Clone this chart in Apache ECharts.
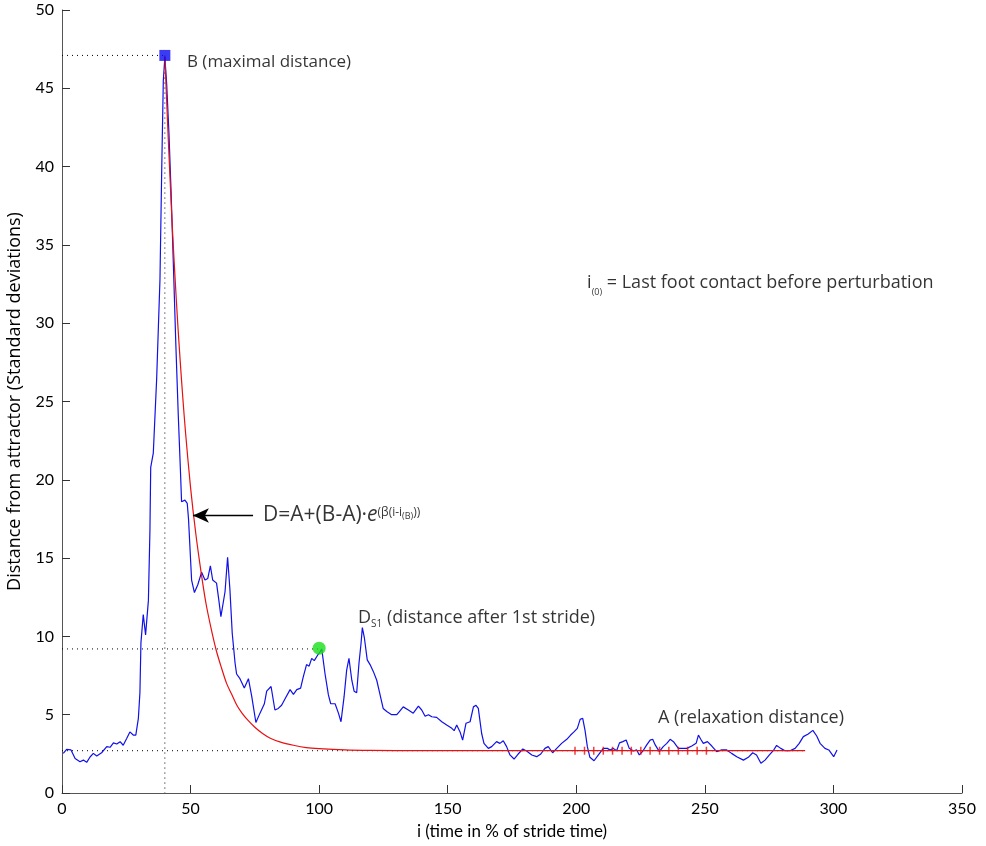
<!DOCTYPE html>
<html>
<head>
<meta charset="UTF-8">
<title>Distance from attractor</title>
<script src="https://cdn.jsdelivr.net/npm/echarts@6/dist/echarts.min.js"></script>
<style>
  html, body { margin: 0; padding: 0; background: #fff; }
  #main { width: 986px; height: 846px; }
</style>
</head>
<body>
<div id="main"></div>
<script>
// blue trace: distance from attractor
var blueX = [0.5, 1.8, 3.5, 5.1, 7, 8.3, 9.6, 10.9, 12.2, 13.5, 15.4, 17.4, 18.7, 20, 21.3, 22.6, 23.8, 25.2, 26.4, 27.7, 28.7, 29.7, 30.3, 30.7, 31.6, 32.5, 33.6, 34.2, 34.5, 35.5, 36.8, 38.1, 38.8, 39.4, 40,
  40.7, 41.6, 42.4, 43.3, 44.3, 45.2, 46.1, 46.5, 47.8, 48.7, 49.2, 50.4, 51.5, 52.8, 54.3, 55.6, 56.7, 57.7, 58.6, 60.1, 61, 61.8, 62.5, 63.4, 64.4, 65.3, 66.2, 67.3, 67.9, 69.2, 70.9, 72.5, 73.8, 75.4, 77, 78.7, 79.6, 81.3, 81.8, 82.8, 84.1, 85.4, 86.7, 88.7, 90, 91.3, 92.8, 93.8, 95.1, 96.1, 97.1, 98.1, 99.4, 100.3, 101,
  102.3, 103.6, 104.5, 106.2, 107.5, 108.5, 109.7, 110.7, 111.6, 112.7, 113.6, 114.6, 115.5, 116.3, 116.8, 117.6, 118.7, 119.8, 121.1, 122.4, 123.7, 124.9, 126.3, 128.2, 130.2, 131.2, 132.7, 134.7, 136.6, 138.6, 139.9, 141.2, 142.5, 143.8, 145.7, 147.7, 149.6, 151.6, 152.5, 153.5, 154.8, 155.8, 157.1, 158.7, 160, 161, 161.9, 163.2, 164.1, 165.8, 167.1, 169, 170.3, 171.6, 172.9, 174.2, 175.8, 177.4, 179.2, 180.7,
  182.7, 184.6, 186.2, 187.8, 189.1, 190.8, 192.4, 194.3, 196.3, 197.8, 199.1, 200.4, 201.5, 202.5, 203.4, 204.3, 205.3, 206.9, 208.6, 210.5, 212.1, 213.1, 214.4, 215.7, 216.8, 218.1, 219.4, 220.6, 222.2, 223.5, 224.5, 225.9, 227.4, 228.7, 229.7, 230.7, 232.3, 233.8, 235.2, 236.5, 237.8, 239.7, 241.4, 243, 244.9, 246.6, 247.5, 248.4, 249.4, 251, 252.7, 254.6, 256.6, 258.5, 260.4, 262.4, 265, 266.9, 268.6, 270.1, 271.8, 273.4, 275.1, 276.6, 277.9, 279.5, 281.2, 283.1, 285.1, 286.7, 288.3, 290.2, 292, 293.5, 294.8, 296.7, 298.2, 300.1, 301.4];
var blueY = [2.53, 2.79, 2.75, 2.2, 2.0, 2.1, 1.96, 2.3, 2.53, 2.36, 2.57, 2.96, 2.92, 3.2, 3.13, 3.28, 3.05, 3.49, 3.9, 3.7, 3.7, 4.77, 6.4, 9.6, 11.4, 10.1, 12.3, 16.8, 20.8, 21.7, 26.4, 32.8, 40, 45.5, 47.0,
  45.3, 42.1, 38.5, 33.8, 28.5, 24.2, 20.4, 18.6, 18.7, 18.5, 17.5, 13.6, 12.8, 13.3, 14.1, 13.6, 13.7, 14.5, 13.6, 13.4, 12.3, 11.26, 11.26, 12.85, 15.05, 13.0, 10.2, 8.3, 7.6, 7.3, 6.7, 7.3, 6.15, 4.5, 5.1, 5.7, 6.5, 6.8, 6.8, 5.3, 5.4, 5.6, 6.0, 6.6, 6.3, 6.6, 6.7, 7.4, 8.2, 8.1, 8.6, 8.45, 8.8, 9.0, 9.2,
  7.6, 6.26, 5.7, 5.7, 5.1, 4.55, 6.15, 7.85, 8.6, 7.2, 6.5, 6.4, 8.3, 9.56, 10.56, 9.9, 8.5, 8.2, 7.75, 7.2, 6.26, 5.4, 5.2, 5.0, 5.0, 5.2, 5.5, 5.3, 5.1, 5.55, 5.3, 4.9, 5.0, 4.87, 4.83, 4.55, 4.34, 4.13, 3.98, 4.34, 3.9, 3.38, 4.45, 4.55, 5.5, 5.6, 5.4, 3.8, 3.17, 2.85, 2.96, 3.28, 3.17, 3.34, 2.96, 2.43, 2.17, 2.49, 2.81, 2.68,
  2.43, 2.32, 2.49, 2.85, 2.96, 2.57, 2.85, 3.17, 3.43, 3.7, 3.9, 4.13, 4.7, 4.77, 4.0, 2.96, 2.28, 2.06, 2.43, 2.85, 2.85, 2.75, 2.85, 2.7, 3.2, 3.28, 3.38, 2.85, 2.68, 2.75, 2.43, 2.68, 3.07, 3.38, 3.43, 3.07, 2.64, 2.96, 3.17, 3.43, 3.28, 2.85, 2.85, 2.85, 3.0, 3.17, 3.7, 3.43, 3.17, 3.28, 3.0, 2.64, 2.75, 2.75, 2.53, 2.32, 2.1, 2.28, 2.57, 2.43, 1.9, 2.1, 2.43, 2.7, 3.04, 2.85, 2.7, 2.7, 2.85, 3.17, 3.6, 3.77, 4.0, 3.64, 3.17, 2.85, 2.75, 2.32, 2.75];

// red fitted curve
var redX = [40, 41, 42, 43, 44, 45, 46, 47, 48, 50, 52, 54, 56, 58, 60, 62, 64, 66, 68, 70, 72, 75, 78, 81, 85, 90, 95, 100, 110, 120, 140, 170, 200, 289];
var redY = [47.1, 43.0, 39.3, 35.8, 32.8, 30.0, 27.5, 25.2, 23.1, 19.5, 16.6, 14.2, 12.1, 10.5, 9.1, 8.0, 7.0, 6.3, 5.6, 5.1, 4.7, 4.2, 3.8, 3.5, 3.25, 3.05, 2.9, 2.83, 2.75, 2.72, 2.7, 2.7, 2.7, 2.7];

// red ticks along the relaxation level
var tickX = [199.5, 203.2, 206.8, 210.5, 214.1, 217.8, 221.4, 225.1, 228.7, 232.4, 236.0, 239.7, 243.3, 247.0, 250.6];
var levelA = 2.7;

// key points
var pointB = [40, 47.1];
var pointDs1 = [100, 9.25];

// dotted guide lines
var guideB = [[0, 47.1], [40, 47.1], [40, 0]];
var guideDs1 = [[0, 9.2], [100, 9.2]];
var guideA = [[0, 2.7], [289, 2.7]];

// arrow pointing at the fitted curve
var arrowFrom = [74.3, 17.72];
var arrowTo = [50.9, 17.72];

var xTicks = [0, 50, 100, 150, 200, 250, 300, 350];
var yTicks = [0, 5, 10, 15, 20, 25, 30, 35, 40, 45, 50];

var AXFONT = 'Lato';
var FONT = 'Open Sans';

function zip(xs, ys) {
  return xs.map(function (x, i) { return [x, ys[i]]; });
}

function textAt(pos, text, size, rich) {
  return {
    type: 'scatter', symbolSize: 0, silent: true, z: 10,
    data: [pos],
    label: {
      show: true, position: 'right', distance: 0,
      formatter: text,
      color: '#000', fontFamily: FONT, fontSize: size,
      rich: rich || {}
    }
  };
}

var dotted = { color: '#000', width: 1, type: [1, 4] };

var chart = echarts.init(document.getElementById('main'), null, { renderer: 'canvas' });

var option = {
  animation: false,
  backgroundColor: '#fff',
  grid: { left: 62, right: 24, top: 10, bottom: 53, outerBoundsMode: 'none', containLabel: false },
  xAxis: {
    type: 'value', min: xTicks[0], max: xTicks[xTicks.length - 1], interval: 50,
    name: 'i (time in % of stride time)', nameLocation: 'middle', nameGap: 30,
    nameTextStyle: { fontFamily: AXFONT, fontSize: 17, color: '#000' },
    axisLine: { lineStyle: { color: '#555', width: 1 } },
    axisTick: { inside: true, length: 8, lineStyle: { color: '#333' } },
    axisLabel: { fontFamily: AXFONT, fontSize: 16, color: '#000', margin: 8 },
    splitLine: { show: false }
  },
  yAxis: {
    type: 'value', min: yTicks[0], max: yTicks[yTicks.length - 1], interval: 5,
    name: 'Distance from attractor (Standard deviations)', nameLocation: 'middle', nameGap: 38,
    nameTextStyle: { fontFamily: FONT, fontSize: 18, color: '#000' },
    axisLine: { lineStyle: { color: '#555', width: 1 } },
    axisTick: { inside: true, length: 8, lineStyle: { color: '#333' } },
    axisLabel: { fontFamily: AXFONT, fontSize: 16, color: '#000', margin: 8 },
    splitLine: { show: false }
  },
  series: [
    { type: 'line', data: guideB, symbol: 'none', lineStyle: dotted, silent: true, z: 1 },
    { type: 'line', data: guideDs1, symbol: 'none', lineStyle: dotted, silent: true, z: 1 },
    { type: 'line', data: guideA, symbol: 'none', lineStyle: dotted, silent: true, z: 1 },
    {
      type: 'line', data: zip(blueX, blueY), symbol: 'none',
      lineStyle: { color: '#1010e8', width: 1.2 }, z: 3
    },
    {
      type: 'line', data: zip(redX, redY), symbol: 'none', smooth: 0.3,
      lineStyle: { color: '#e81010', width: 1.2 }, z: 4
    },
    {
      type: 'scatter', data: tickX.map(function (x) { return [x, levelA]; }),
      symbol: 'rect', symbolSize: [1.5, 8], itemStyle: { color: '#e81010' }, z: 5
    },
    {
      type: 'scatter', data: [pointB], symbol: 'rect', symbolSize: 11,
      itemStyle: { color: '#0a0af0' }, z: 6
    },
    {
      type: 'scatter', data: [pointDs1], symbol: 'circle', symbolSize: 13,
      itemStyle: { color: '#18e018' }, z: 6
    },
    {
      type: 'line', data: [], silent: true,
      markLine: {
        silent: true, animation: false,
        symbol: ['none', 'arrow'], symbolSize: [11, 16],
        label: { show: false },
        lineStyle: { color: '#000', width: 1.3, type: 'solid' },
        data: [[{ coord: arrowFrom }, { coord: arrowTo }]]
      }
    },
    textAt([48.6, 46.7], 'B (maximal distance)', 17),
    textAt([78.2, 17.72], '{m|D=A+(B-A)·}{e|e}{sup|(β(i-i}{ss|(B)}{sup|))}', 21, {
      m: { fontFamily: FONT, fontSize: 21, lineHeight: 30, verticalAlign: 'middle' },
      e: { fontFamily: FONT, fontSize: 21, fontStyle: 'italic', lineHeight: 30, verticalAlign: 'middle' },
      sup: { fontFamily: FONT, fontSize: 12, lineHeight: 30, verticalAlign: 'middle', padding: [0, 0, 5, 0] },
      ss: { fontFamily: FONT, fontSize: 9, lineHeight: 30, verticalAlign: 'middle', padding: [2, 0, 0, 0] }
    }),
    textAt([115.1, 11.17], '{m|D}{s|S1}{m| (distance after 1st stride)}', 18, {
      m: { fontFamily: FONT, fontSize: 18, lineHeight: 24, verticalAlign: 'middle' },
      s: { fontFamily: FONT, fontSize: 10, lineHeight: 24, verticalAlign: 'middle', padding: [13, 0, 0, 0] }
    }),
    textAt([231.8, 4.8], 'A (relaxation distance)', 18),
    textAt([204.2, 32.6], '{m|i}{s|(0)}{m| = Last foot contact before perturbation}', 18, {
      m: { fontFamily: FONT, fontSize: 18, lineHeight: 24, verticalAlign: 'middle' },
      s: { fontFamily: FONT, fontSize: 9, lineHeight: 24, verticalAlign: 'middle', padding: [20, 0, 0, 0] }
    })
  ]
};

chart.setOption(option);
</script>
</body>
</html>
